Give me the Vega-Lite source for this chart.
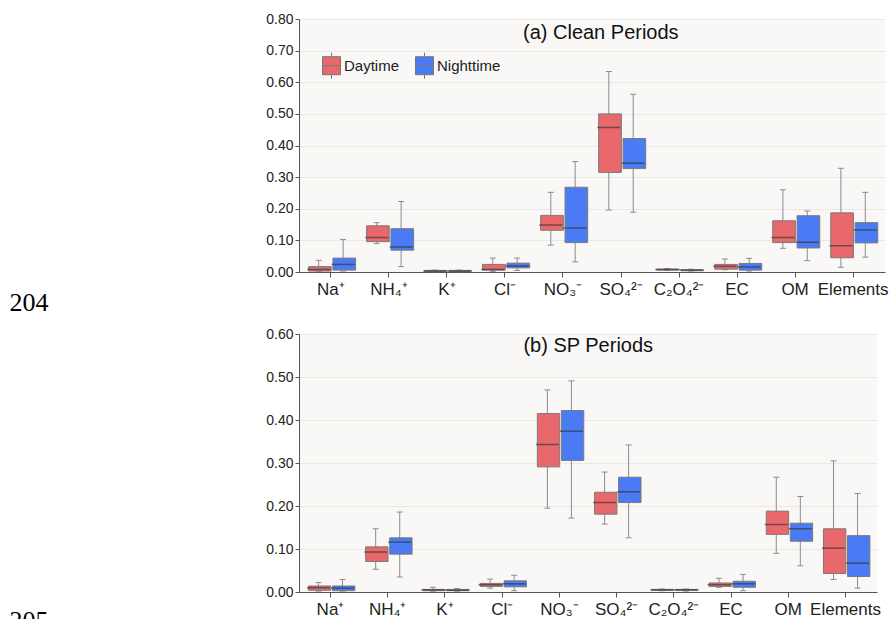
{
  "$schema": "https://vega.github.io/schema/vega-lite/v6.json",
  "background": "white",
  "padding": {"left": 9, "top": 12, "right": 0, "bottom": 0},
  "spacing": 12,
  "datasets": {
    "clean": [
      {"cat": "Na⁺", "period": "Daytime", "lo": 0.001, "q1": 0.003, "med": 0.008, "q3": 0.017, "hi": 0.037},
      {"cat": "Na⁺", "period": "Nighttime", "lo": 0.003, "q1": 0.006, "med": 0.024, "q3": 0.044, "hi": 0.103},
      {"cat": "NH₄⁺", "period": "Daytime", "lo": 0.090, "q1": 0.096, "med": 0.109, "q3": 0.146, "hi": 0.156},
      {"cat": "NH₄⁺", "period": "Nighttime", "lo": 0.017, "q1": 0.069, "med": 0.079, "q3": 0.137, "hi": 0.223},
      {"cat": "K⁺", "period": "Daytime", "lo": 0.001, "q1": 0.002, "med": 0.003, "q3": 0.005, "hi": 0.006},
      {"cat": "K⁺", "period": "Nighttime", "lo": 0.001, "q1": 0.002, "med": 0.003, "q3": 0.005, "hi": 0.006},
      {"cat": "Cl⁻", "period": "Daytime", "lo": 0.002, "q1": 0.006, "med": 0.008, "q3": 0.024, "hi": 0.044},
      {"cat": "Cl⁻", "period": "Nighttime", "lo": 0.005, "q1": 0.013, "med": 0.019, "q3": 0.028, "hi": 0.044},
      {"cat": "NO₃⁻", "period": "Daytime", "lo": 0.085, "q1": 0.132, "med": 0.149, "q3": 0.179, "hi": 0.252},
      {"cat": "NO₃⁻", "period": "Nighttime", "lo": 0.032, "q1": 0.093, "med": 0.139, "q3": 0.268, "hi": 0.349},
      {"cat": "SO₄²⁻", "period": "Daytime", "lo": 0.196, "q1": 0.315, "med": 0.457, "q3": 0.500, "hi": 0.634},
      {"cat": "SO₄²⁻", "period": "Nighttime", "lo": 0.189, "q1": 0.327, "med": 0.344, "q3": 0.422, "hi": 0.562},
      {"cat": "C₂O₄²⁻", "period": "Daytime", "lo": 0.005, "q1": 0.006, "med": 0.008, "q3": 0.009, "hi": 0.011},
      {"cat": "C₂O₄²⁻", "period": "Nighttime", "lo": 0.003, "q1": 0.004, "med": 0.006, "q3": 0.007, "hi": 0.009},
      {"cat": "EC", "period": "Daytime", "lo": 0.007, "q1": 0.009, "med": 0.018, "q3": 0.024, "hi": 0.041},
      {"cat": "EC", "period": "Nighttime", "lo": 0.003, "q1": 0.006, "med": 0.016, "q3": 0.027, "hi": 0.043},
      {"cat": "OM", "period": "Daytime", "lo": 0.075, "q1": 0.093, "med": 0.109, "q3": 0.162, "hi": 0.260},
      {"cat": "OM", "period": "Nighttime", "lo": 0.036, "q1": 0.076, "med": 0.094, "q3": 0.178, "hi": 0.193},
      {"cat": "Elements", "period": "Daytime", "lo": 0.015, "q1": 0.045, "med": 0.083, "q3": 0.187, "hi": 0.328},
      {"cat": "Elements", "period": "Nighttime", "lo": 0.047, "q1": 0.092, "med": 0.133, "q3": 0.156, "hi": 0.252}
    ],
    "sp": [
      {"cat": "Na⁺", "period": "Daytime", "lo": 0.002, "q1": 0.004, "med": 0.010, "q3": 0.014, "hi": 0.022},
      {"cat": "Na⁺", "period": "Nighttime", "lo": 0.002, "q1": 0.003, "med": 0.009, "q3": 0.014, "hi": 0.029},
      {"cat": "NH₄⁺", "period": "Daytime", "lo": 0.053, "q1": 0.071, "med": 0.093, "q3": 0.105, "hi": 0.147},
      {"cat": "NH₄⁺", "period": "Nighttime", "lo": 0.035, "q1": 0.088, "med": 0.116, "q3": 0.126, "hi": 0.186},
      {"cat": "K⁺", "period": "Daytime", "lo": 0.002, "q1": 0.003, "med": 0.005, "q3": 0.006, "hi": 0.011},
      {"cat": "K⁺", "period": "Nighttime", "lo": 0.002, "q1": 0.003, "med": 0.004, "q3": 0.006, "hi": 0.008},
      {"cat": "Cl⁻", "period": "Daytime", "lo": 0.009, "q1": 0.013, "med": 0.017, "q3": 0.020, "hi": 0.030},
      {"cat": "Cl⁻", "period": "Nighttime", "lo": 0.003, "q1": 0.012, "med": 0.019, "q3": 0.026, "hi": 0.039},
      {"cat": "NO₃⁻", "period": "Daytime", "lo": 0.195, "q1": 0.291, "med": 0.343, "q3": 0.415, "hi": 0.470},
      {"cat": "NO₃⁻", "period": "Nighttime", "lo": 0.172, "q1": 0.306, "med": 0.374, "q3": 0.422, "hi": 0.491},
      {"cat": "SO₄²⁻", "period": "Daytime", "lo": 0.158, "q1": 0.181, "med": 0.208, "q3": 0.232, "hi": 0.279},
      {"cat": "SO₄²⁻", "period": "Nighttime", "lo": 0.126, "q1": 0.208, "med": 0.233, "q3": 0.267, "hi": 0.342},
      {"cat": "C₂O₄²⁻", "period": "Daytime", "lo": 0.003, "q1": 0.004, "med": 0.005, "q3": 0.006, "hi": 0.007},
      {"cat": "C₂O₄²⁻", "period": "Nighttime", "lo": 0.002, "q1": 0.004, "med": 0.005, "q3": 0.006, "hi": 0.007},
      {"cat": "EC", "period": "Daytime", "lo": 0.011, "q1": 0.013, "med": 0.017, "q3": 0.021, "hi": 0.032},
      {"cat": "EC", "period": "Nighttime", "lo": 0.003, "q1": 0.011, "med": 0.019, "q3": 0.025, "hi": 0.041},
      {"cat": "OM", "period": "Daytime", "lo": 0.090, "q1": 0.134, "med": 0.157, "q3": 0.188, "hi": 0.267},
      {"cat": "OM", "period": "Nighttime", "lo": 0.061, "q1": 0.118, "med": 0.147, "q3": 0.160, "hi": 0.222},
      {"cat": "Elements", "period": "Daytime", "lo": 0.029, "q1": 0.043, "med": 0.102, "q3": 0.147, "hi": 0.305},
      {"cat": "Elements", "period": "Nighttime", "lo": 0.009, "q1": 0.036, "med": 0.067, "q3": 0.131, "hi": 0.229}
    ]
  },
  "config": {
    "font": "Liberation Sans",
    "view": {"fill": "#f9f8f6", "stroke": null},
    "axis": {"domainColor": "#555555", "tickColor": "#555555", "labelColor": "#222222", "labelFont": "Liberation Sans", "gridColor": "#ebe8e4", "gridWidth": 1}
  },
  "resolve": {"scale": {"xOffset": "independent", "y": "independent", "x": "independent"}, "legend": {"fill": "independent"}},
  "vconcat": [
    {
      "width": 586,
      "height": 253,
      "data": {"name": "clean"},
      "layer": [
        {"mark": {"type": "rule", "color": "#8c8c8c", "strokeWidth": 1},
         "encoding": {
           "x": {"field": "cat", "type": "nominal", "scale": {"domain": ["Na⁺", "NH₄⁺", "K⁺", "Cl⁻", "NO₃⁻", "SO₄²⁻", "C₂O₄²⁻", "EC", "OM", "Elements"], "paddingInner": 0, "paddingOuter": 0.05}, "axis": {"title": null, "labelAngle": 0, "labelFontSize": 17, "tickSize": 5, "labelPadding": 4, "grid": false}},
           "xOffset": {"field": "period", "type": "nominal", "scale": {"domain": ["Daytime", "Nighttime"], "paddingInner": 0, "paddingOuter": 0.19}},
           "y": {"field": "lo", "type": "quantitative", "scale": {"domain": [0, 0.8], "nice": false}, "axis": {"values": [0, 0.1, 0.2, 0.3, 0.4, 0.5, 0.6, 0.7, 0.8], "format": ".2f", "labelFontSize": 14, "tickSize": 4, "labelPadding": 2, "grid": true, "labelOverlap": false, "title": "204", "titleAngle": 0, "titleX": -290, "titleY": 291, "titleAlign": "left", "titleBaseline": "alphabetic", "titleFont": "Liberation Serif", "titleFontSize": 26, "titleFontWeight": "normal", "titleColor": "#000000"}},
           "y2": {"field": "hi"}}},
        {"mark": {"type": "tick", "color": "#8c8c8c", "size": 6, "thickness": 1, "opacity": 1},
         "encoding": {
           "x": {"field": "cat", "type": "nominal", "scale": {"domain": ["Na⁺", "NH₄⁺", "K⁺", "Cl⁻", "NO₃⁻", "SO₄²⁻", "C₂O₄²⁻", "EC", "OM", "Elements"], "paddingInner": 0, "paddingOuter": 0.05}, "axis": {"title": null, "labelAngle": 0, "labelFontSize": 17, "tickSize": 5, "labelPadding": 4, "grid": false}},
           "xOffset": {"field": "period", "type": "nominal", "scale": {"domain": ["Daytime", "Nighttime"], "paddingInner": 0, "paddingOuter": 0.19}},
           "y": {"field": "lo", "type": "quantitative", "scale": {"domain": [0, 0.8], "nice": false}, "axis": {"values": [0, 0.1, 0.2, 0.3, 0.4, 0.5, 0.6, 0.7, 0.8], "format": ".2f", "labelFontSize": 14, "tickSize": 4, "labelPadding": 2, "grid": true, "labelOverlap": false, "title": "204", "titleAngle": 0, "titleX": -290, "titleY": 291, "titleAlign": "left", "titleBaseline": "alphabetic", "titleFont": "Liberation Serif", "titleFontSize": 26, "titleFontWeight": "normal", "titleColor": "#000000"}}}},
        {"mark": {"type": "tick", "color": "#8c8c8c", "size": 6, "thickness": 1, "opacity": 1},
         "encoding": {
           "x": {"field": "cat", "type": "nominal", "scale": {"domain": ["Na⁺", "NH₄⁺", "K⁺", "Cl⁻", "NO₃⁻", "SO₄²⁻", "C₂O₄²⁻", "EC", "OM", "Elements"], "paddingInner": 0, "paddingOuter": 0.05}, "axis": {"title": null, "labelAngle": 0, "labelFontSize": 17, "tickSize": 5, "labelPadding": 4, "grid": false}},
           "xOffset": {"field": "period", "type": "nominal", "scale": {"domain": ["Daytime", "Nighttime"], "paddingInner": 0, "paddingOuter": 0.19}},
           "y": {"field": "hi", "type": "quantitative", "scale": {"domain": [0, 0.8], "nice": false}, "axis": {"values": [0, 0.1, 0.2, 0.3, 0.4, 0.5, 0.6, 0.7, 0.8], "format": ".2f", "labelFontSize": 14, "tickSize": 4, "labelPadding": 2, "grid": true, "labelOverlap": false, "title": "204", "titleAngle": 0, "titleX": -290, "titleY": 291, "titleAlign": "left", "titleBaseline": "alphabetic", "titleFont": "Liberation Serif", "titleFontSize": 26, "titleFontWeight": "normal", "titleColor": "#000000"}}}},
        {"mark": {"type": "bar", "width": {"band": 0.93}, "stroke": "#7a7a7a", "strokeWidth": 1, "opacity": 1},
         "encoding": {
           "x": {"field": "cat", "type": "nominal", "scale": {"domain": ["Na⁺", "NH₄⁺", "K⁺", "Cl⁻", "NO₃⁻", "SO₄²⁻", "C₂O₄²⁻", "EC", "OM", "Elements"], "paddingInner": 0, "paddingOuter": 0.05}, "axis": {"title": null, "labelAngle": 0, "labelFontSize": 17, "tickSize": 5, "labelPadding": 4, "grid": false}},
           "xOffset": {"field": "period", "type": "nominal", "scale": {"domain": ["Daytime", "Nighttime"], "paddingInner": 0, "paddingOuter": 0.19}},
           "y": {"field": "q1", "type": "quantitative", "scale": {"domain": [0, 0.8], "nice": false}, "axis": {"values": [0, 0.1, 0.2, 0.3, 0.4, 0.5, 0.6, 0.7, 0.8], "format": ".2f", "labelFontSize": 14, "tickSize": 4, "labelPadding": 2, "grid": true, "labelOverlap": false, "title": "204", "titleAngle": 0, "titleX": -290, "titleY": 291, "titleAlign": "left", "titleBaseline": "alphabetic", "titleFont": "Liberation Serif", "titleFontSize": 26, "titleFontWeight": "normal", "titleColor": "#000000"}},
           "y2": {"field": "q3"},
           "fill": {"field": "period", "type": "nominal", "scale": {"domain": ["Daytime", "Nighttime"], "range": ["#e8686b", "#4a7bf5"]},
             "legend": {"title": null, "orient": "none", "legendX": 23, "legendY": 37, "direction": "horizontal", "padding": 0, "symbolType": "M-1,-1H1V1H-1Z M-1,0H1 M0,-1V-1.45 M0,1V1.45", "symbolSize": 324, "symbolStrokeColor": "#777777", "symbolStrokeWidth": 1, "symbolOpacity": 1, "labelFontSize": 15, "labelOffset": 3, "columnPadding": 13, "labelColor": "#222222"}}}},
        {"mark": {"type": "tick", "color": "#333333", "opacity": 0.65, "size": 23, "thickness": 1.5},
         "encoding": {
           "x": {"field": "cat", "type": "nominal", "scale": {"domain": ["Na⁺", "NH₄⁺", "K⁺", "Cl⁻", "NO₃⁻", "SO₄²⁻", "C₂O₄²⁻", "EC", "OM", "Elements"], "paddingInner": 0, "paddingOuter": 0.05}, "axis": {"title": null, "labelAngle": 0, "labelFontSize": 17, "tickSize": 5, "labelPadding": 4, "grid": false}},
           "xOffset": {"field": "period", "type": "nominal", "scale": {"domain": ["Daytime", "Nighttime"], "paddingInner": 0, "paddingOuter": 0.19}},
           "y": {"field": "med", "type": "quantitative", "scale": {"domain": [0, 0.8], "nice": false}, "axis": {"values": [0, 0.1, 0.2, 0.3, 0.4, 0.5, 0.6, 0.7, 0.8], "format": ".2f", "labelFontSize": 14, "tickSize": 4, "labelPadding": 2, "grid": true, "labelOverlap": false, "title": "204", "titleAngle": 0, "titleX": -290, "titleY": 291, "titleAlign": "left", "titleBaseline": "alphabetic", "titleFont": "Liberation Serif", "titleFontSize": 26, "titleFontWeight": "normal", "titleColor": "#000000"}}}},
        {"data": {"values": [{"label": "(a) Clean Periods", "at": "NO₃⁻", "h": 0.757}]},
         "mark": {"type": "text", "align": "left", "baseline": "middle", "dx": -40, "fontSize": 20, "font": "Liberation Sans", "color": "#111111"},
         "encoding": {
           "text": {"field": "label"},
           "x": {"field": "at", "type": "nominal", "scale": {"domain": ["Na⁺", "NH₄⁺", "K⁺", "Cl⁻", "NO₃⁻", "SO₄²⁻", "C₂O₄²⁻", "EC", "OM", "Elements"], "paddingInner": 0, "paddingOuter": 0.05}, "axis": {"title": null, "labelAngle": 0, "labelFontSize": 17, "tickSize": 5, "labelPadding": 4, "grid": false}},
           "y": {"field": "h", "type": "quantitative", "scale": {"domain": [0, 0.8], "nice": false}, "axis": {"values": [0, 0.1, 0.2, 0.3, 0.4, 0.5, 0.6, 0.7, 0.8], "format": ".2f", "labelFontSize": 14, "tickSize": 4, "labelPadding": 2, "grid": true, "labelOverlap": false, "title": "204", "titleAngle": 0, "titleX": -290, "titleY": 291, "titleAlign": "left", "titleBaseline": "alphabetic", "titleFont": "Liberation Serif", "titleFontSize": 26, "titleFontWeight": "normal", "titleColor": "#000000"}}}}
      ]
    },
    {
      "width": 578,
      "height": 258,
      "data": {"name": "sp"},
      "layer": [
        {"mark": {"type": "rule", "color": "#8c8c8c", "strokeWidth": 1},
         "encoding": {
           "x": {"field": "cat", "type": "nominal", "scale": {"domain": ["Na⁺", "NH₄⁺", "K⁺", "Cl⁻", "NO₃⁻", "SO₄²⁻", "C₂O₄²⁻", "EC", "OM", "Elements"], "paddingInner": 0, "paddingOuter": 0.05}, "axis": {"title": null, "labelAngle": 0, "labelFontSize": 17, "tickSize": 5, "labelPadding": 4, "grid": false}},
           "xOffset": {"field": "period", "type": "nominal", "scale": {"domain": ["Daytime", "Nighttime"], "paddingInner": 0, "paddingOuter": 0.19}},
           "y": {"field": "lo", "type": "quantitative", "scale": {"domain": [0, 0.6], "nice": false}, "axis": {"values": [0, 0.1, 0.2, 0.3, 0.4, 0.5, 0.6], "format": ".2f", "labelFontSize": 14, "tickSize": 4, "labelPadding": 2, "grid": true, "labelOverlap": false, "title": "205", "titleAngle": 0, "titleX": -290, "titleY": 294, "titleAlign": "left", "titleBaseline": "alphabetic", "titleFont": "Liberation Serif", "titleFontSize": 26, "titleFontWeight": "normal", "titleColor": "#000000"}},
           "y2": {"field": "hi"}}},
        {"mark": {"type": "tick", "color": "#8c8c8c", "size": 6, "thickness": 1, "opacity": 1},
         "encoding": {
           "x": {"field": "cat", "type": "nominal", "scale": {"domain": ["Na⁺", "NH₄⁺", "K⁺", "Cl⁻", "NO₃⁻", "SO₄²⁻", "C₂O₄²⁻", "EC", "OM", "Elements"], "paddingInner": 0, "paddingOuter": 0.05}, "axis": {"title": null, "labelAngle": 0, "labelFontSize": 17, "tickSize": 5, "labelPadding": 4, "grid": false}},
           "xOffset": {"field": "period", "type": "nominal", "scale": {"domain": ["Daytime", "Nighttime"], "paddingInner": 0, "paddingOuter": 0.19}},
           "y": {"field": "lo", "type": "quantitative", "scale": {"domain": [0, 0.6], "nice": false}, "axis": {"values": [0, 0.1, 0.2, 0.3, 0.4, 0.5, 0.6], "format": ".2f", "labelFontSize": 14, "tickSize": 4, "labelPadding": 2, "grid": true, "labelOverlap": false, "title": "205", "titleAngle": 0, "titleX": -290, "titleY": 294, "titleAlign": "left", "titleBaseline": "alphabetic", "titleFont": "Liberation Serif", "titleFontSize": 26, "titleFontWeight": "normal", "titleColor": "#000000"}}}},
        {"mark": {"type": "tick", "color": "#8c8c8c", "size": 6, "thickness": 1, "opacity": 1},
         "encoding": {
           "x": {"field": "cat", "type": "nominal", "scale": {"domain": ["Na⁺", "NH₄⁺", "K⁺", "Cl⁻", "NO₃⁻", "SO₄²⁻", "C₂O₄²⁻", "EC", "OM", "Elements"], "paddingInner": 0, "paddingOuter": 0.05}, "axis": {"title": null, "labelAngle": 0, "labelFontSize": 17, "tickSize": 5, "labelPadding": 4, "grid": false}},
           "xOffset": {"field": "period", "type": "nominal", "scale": {"domain": ["Daytime", "Nighttime"], "paddingInner": 0, "paddingOuter": 0.19}},
           "y": {"field": "hi", "type": "quantitative", "scale": {"domain": [0, 0.6], "nice": false}, "axis": {"values": [0, 0.1, 0.2, 0.3, 0.4, 0.5, 0.6], "format": ".2f", "labelFontSize": 14, "tickSize": 4, "labelPadding": 2, "grid": true, "labelOverlap": false, "title": "205", "titleAngle": 0, "titleX": -290, "titleY": 294, "titleAlign": "left", "titleBaseline": "alphabetic", "titleFont": "Liberation Serif", "titleFontSize": 26, "titleFontWeight": "normal", "titleColor": "#000000"}}}},
        {"mark": {"type": "bar", "width": {"band": 0.93}, "stroke": "#7a7a7a", "strokeWidth": 1, "opacity": 1},
         "encoding": {
           "x": {"field": "cat", "type": "nominal", "scale": {"domain": ["Na⁺", "NH₄⁺", "K⁺", "Cl⁻", "NO₃⁻", "SO₄²⁻", "C₂O₄²⁻", "EC", "OM", "Elements"], "paddingInner": 0, "paddingOuter": 0.05}, "axis": {"title": null, "labelAngle": 0, "labelFontSize": 17, "tickSize": 5, "labelPadding": 4, "grid": false}},
           "xOffset": {"field": "period", "type": "nominal", "scale": {"domain": ["Daytime", "Nighttime"], "paddingInner": 0, "paddingOuter": 0.19}},
           "y": {"field": "q1", "type": "quantitative", "scale": {"domain": [0, 0.6], "nice": false}, "axis": {"values": [0, 0.1, 0.2, 0.3, 0.4, 0.5, 0.6], "format": ".2f", "labelFontSize": 14, "tickSize": 4, "labelPadding": 2, "grid": true, "labelOverlap": false, "title": "205", "titleAngle": 0, "titleX": -290, "titleY": 294, "titleAlign": "left", "titleBaseline": "alphabetic", "titleFont": "Liberation Serif", "titleFontSize": 26, "titleFontWeight": "normal", "titleColor": "#000000"}},
           "y2": {"field": "q3"},
           "fill": {"field": "period", "type": "nominal", "scale": {"domain": ["Daytime", "Nighttime"], "range": ["#e8686b", "#4a7bf5"]}, "legend": null}}},
        {"mark": {"type": "tick", "color": "#333333", "opacity": 0.65, "size": 23, "thickness": 1.5},
         "encoding": {
           "x": {"field": "cat", "type": "nominal", "scale": {"domain": ["Na⁺", "NH₄⁺", "K⁺", "Cl⁻", "NO₃⁻", "SO₄²⁻", "C₂O₄²⁻", "EC", "OM", "Elements"], "paddingInner": 0, "paddingOuter": 0.05}, "axis": {"title": null, "labelAngle": 0, "labelFontSize": 17, "tickSize": 5, "labelPadding": 4, "grid": false}},
           "xOffset": {"field": "period", "type": "nominal", "scale": {"domain": ["Daytime", "Nighttime"], "paddingInner": 0, "paddingOuter": 0.19}},
           "y": {"field": "med", "type": "quantitative", "scale": {"domain": [0, 0.6], "nice": false}, "axis": {"values": [0, 0.1, 0.2, 0.3, 0.4, 0.5, 0.6], "format": ".2f", "labelFontSize": 14, "tickSize": 4, "labelPadding": 2, "grid": true, "labelOverlap": false, "title": "205", "titleAngle": 0, "titleX": -290, "titleY": 294, "titleAlign": "left", "titleBaseline": "alphabetic", "titleFont": "Liberation Serif", "titleFontSize": 26, "titleFontWeight": "normal", "titleColor": "#000000"}}}},
        {"data": {"values": [{"label": "(b) SP Periods", "at": "NO₃⁻", "h": 0.571}]},
         "mark": {"type": "text", "align": "left", "baseline": "middle", "dx": -36, "fontSize": 20, "font": "Liberation Sans", "color": "#111111"},
         "encoding": {
           "text": {"field": "label"},
           "x": {"field": "at", "type": "nominal", "scale": {"domain": ["Na⁺", "NH₄⁺", "K⁺", "Cl⁻", "NO₃⁻", "SO₄²⁻", "C₂O₄²⁻", "EC", "OM", "Elements"], "paddingInner": 0, "paddingOuter": 0.05}, "axis": {"title": null, "labelAngle": 0, "labelFontSize": 17, "tickSize": 5, "labelPadding": 4, "grid": false}},
           "y": {"field": "h", "type": "quantitative", "scale": {"domain": [0, 0.6], "nice": false}, "axis": {"values": [0, 0.1, 0.2, 0.3, 0.4, 0.5, 0.6], "format": ".2f", "labelFontSize": 14, "tickSize": 4, "labelPadding": 2, "grid": true, "labelOverlap": false, "title": "205", "titleAngle": 0, "titleX": -290, "titleY": 294, "titleAlign": "left", "titleBaseline": "alphabetic", "titleFont": "Liberation Serif", "titleFontSize": 26, "titleFontWeight": "normal", "titleColor": "#000000"}}}}
      ]
    }
  ]
}
